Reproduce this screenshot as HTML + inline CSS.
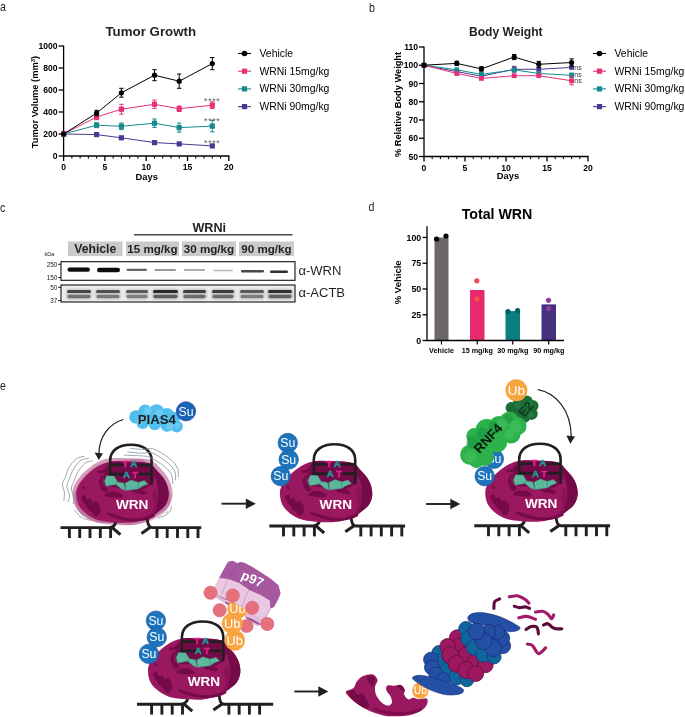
<!DOCTYPE html>
<html><head><meta charset="utf-8"><title>Figure</title>
<style>
html,body{margin:0;padding:0;background:#fff;}
svg{display:block;font-family:"Liberation Sans", Arial, sans-serif;}

.ttl{fill:#231f20;}
</style></head><body>
<svg width="685" height="717" viewBox="0 0 685 717">
<defs><filter id="bl" x="-10%" y="-50%" width="120%" height="200%"><feGaussianBlur stdDeviation="0.6"/></filter><filter id="bl2" x="-10%" y="-50%" width="120%" height="200%"><feGaussianBlur stdDeviation="1.2"/></filter></defs>
<rect width="685" height="717" fill="#fff"/>
<g font-size="13" class="ttl">
<text transform="translate(0,11.3) scale(0.82,1)">a</text>
<text transform="translate(369,12.4) scale(0.82,1)">b</text>
<text transform="translate(0,211.5) scale(0.82,1)">c</text>
<text transform="translate(368.6,211.2) scale(0.82,1)">d</text>
<text transform="translate(0,390) scale(0.82,1)">e</text>
</g>
<g id="pa"><path d="M63.6,45.4 V156.0 H229.39999999999998" fill="none" stroke="#000" stroke-width="1.3"/>
<path d="M58.6,156.0 H63.6" stroke="#000" stroke-width="1.3"/>
<text x="57.6" y="159.1" text-anchor="end" font-size="8.6" font-weight="bold">0</text>
<path d="M58.6,134.0 H63.6" stroke="#000" stroke-width="1.3"/>
<text x="57.6" y="137.1" text-anchor="end" font-size="8.6" font-weight="bold">200</text>
<path d="M58.6,112.0 H63.6" stroke="#000" stroke-width="1.3"/>
<text x="57.6" y="115.1" text-anchor="end" font-size="8.6" font-weight="bold">400</text>
<path d="M58.6,90.0 H63.6" stroke="#000" stroke-width="1.3"/>
<text x="57.6" y="93.1" text-anchor="end" font-size="8.6" font-weight="bold">600</text>
<path d="M58.6,68.0 H63.6" stroke="#000" stroke-width="1.3"/>
<text x="57.6" y="71.1" text-anchor="end" font-size="8.6" font-weight="bold">800</text>
<path d="M58.6,46.0 H63.6" stroke="#000" stroke-width="1.3"/>
<text x="57.6" y="49.1" text-anchor="end" font-size="8.6" font-weight="bold">1000</text>
<path d="M63.6,156.0 v5" stroke="#000" stroke-width="1.3"/>
<text x="63.6" y="170.3" text-anchor="middle" font-size="8.6" font-weight="bold">0</text>
<path d="M71.86,156.0 v2.7" stroke="#000" stroke-width="1"/>
<path d="M80.12,156.0 v2.7" stroke="#000" stroke-width="1"/>
<path d="M88.38,156.0 v2.7" stroke="#000" stroke-width="1"/>
<path d="M96.64,156.0 v2.7" stroke="#000" stroke-width="1"/>
<path d="M104.9,156.0 v5" stroke="#000" stroke-width="1.3"/>
<text x="104.9" y="170.3" text-anchor="middle" font-size="8.6" font-weight="bold">5</text>
<path d="M113.16,156.0 v2.7" stroke="#000" stroke-width="1"/>
<path d="M121.42,156.0 v2.7" stroke="#000" stroke-width="1"/>
<path d="M129.68,156.0 v2.7" stroke="#000" stroke-width="1"/>
<path d="M137.94,156.0 v2.7" stroke="#000" stroke-width="1"/>
<path d="M146.2,156.0 v5" stroke="#000" stroke-width="1.3"/>
<text x="146.2" y="170.3" text-anchor="middle" font-size="8.6" font-weight="bold">10</text>
<path d="M154.46,156.0 v2.7" stroke="#000" stroke-width="1"/>
<path d="M162.72,156.0 v2.7" stroke="#000" stroke-width="1"/>
<path d="M170.98,156.0 v2.7" stroke="#000" stroke-width="1"/>
<path d="M179.24,156.0 v2.7" stroke="#000" stroke-width="1"/>
<path d="M187.5,156.0 v5" stroke="#000" stroke-width="1.3"/>
<text x="187.5" y="170.3" text-anchor="middle" font-size="8.6" font-weight="bold">15</text>
<path d="M195.76,156.0 v2.7" stroke="#000" stroke-width="1"/>
<path d="M204.01999999999998,156.0 v2.7" stroke="#000" stroke-width="1"/>
<path d="M212.28,156.0 v2.7" stroke="#000" stroke-width="1"/>
<path d="M220.54,156.0 v2.7" stroke="#000" stroke-width="1"/>
<path d="M228.79999999999998,156.0 v5" stroke="#000" stroke-width="1.3"/>
<text x="228.79999999999998" y="170.3" text-anchor="middle" font-size="8.6" font-weight="bold">20</text>
<text x="146.7" y="179.7" text-anchor="middle" font-size="9.4" font-weight="bold">Days</text>
<text transform="translate(38.4,102) rotate(-90)" text-anchor="middle" font-size="9.3" font-weight="bold">Tumor Volume (mm<tspan dy="-3.2" font-size="6">3</tspan><tspan dy="3.2">)</tspan></text>
<text x="150.8" y="35.8" text-anchor="middle" font-size="13.3" font-weight="bold" class="ttl">Tumor Growth</text>
<polyline points="63.6,134.0 96.6,134.6 121.4,137.8 154.5,142.6 179.2,143.9 212.3,145.9" fill="none" stroke="#4b3a92" stroke-width="1"/>
<rect x="61.0" y="131.4" width="5.2" height="5.2" fill="#4b3a92"/>
<rect x="94.0" y="132.0" width="5.2" height="5.2" fill="#4b3a92"/>
<rect x="118.8" y="135.2" width="5.2" height="5.2" fill="#4b3a92"/>
<rect x="151.9" y="140.0" width="5.2" height="5.2" fill="#4b3a92"/>
<rect x="176.6" y="141.3" width="5.2" height="5.2" fill="#4b3a92"/>
<rect x="209.7" y="143.3" width="5.2" height="5.2" fill="#4b3a92"/>
<polyline points="63.6,134.0 96.6,125.2 121.4,126.3 154.5,123.2 179.2,127.6 212.3,126.1" fill="none" stroke="#178a8c" stroke-width="1"/>
<rect x="61.0" y="131.4" width="5.2" height="5.2" fill="#178a8c"/>
<path d="M96.6,122.8 V127.6 M94.4,122.8 h4.4 M94.4,127.6 h4.4" stroke="#178a8c" stroke-width="1" fill="none"/>
<rect x="94.0" y="122.6" width="5.2" height="5.2" fill="#178a8c"/>
<path d="M121.4,123.0 V129.6 M119.2,123.0 h4.4 M119.2,129.6 h4.4" stroke="#178a8c" stroke-width="1" fill="none"/>
<rect x="118.8" y="123.7" width="5.2" height="5.2" fill="#178a8c"/>
<path d="M154.5,119.0 V127.4 M152.3,119.0 h4.4 M152.3,127.4 h4.4" stroke="#178a8c" stroke-width="1" fill="none"/>
<rect x="151.9" y="120.6" width="5.2" height="5.2" fill="#178a8c"/>
<path d="M179.2,123.0 V132.2 M177.0,123.0 h4.4 M177.0,132.2 h4.4" stroke="#178a8c" stroke-width="1" fill="none"/>
<rect x="176.6" y="125.0" width="5.2" height="5.2" fill="#178a8c"/>
<path d="M212.3,120.4 V131.8 M210.1,120.4 h4.4 M210.1,131.8 h4.4" stroke="#178a8c" stroke-width="1" fill="none"/>
<rect x="209.7" y="123.5" width="5.2" height="5.2" fill="#178a8c"/>
<polyline points="63.6,134.0 96.6,117.0 121.4,109.2 154.5,104.3 179.2,108.7 212.3,105.2" fill="none" stroke="#e6317a" stroke-width="1"/>
<rect x="61.0" y="131.4" width="5.2" height="5.2" fill="#e6317a"/>
<path d="M96.6,114.2 V119.7 M94.4,114.2 h4.4 M94.4,119.7 h4.4" stroke="#e6317a" stroke-width="1" fill="none"/>
<rect x="94.0" y="114.4" width="5.2" height="5.2" fill="#e6317a"/>
<path d="M121.4,104.3 V114.2 M119.2,104.3 h4.4 M119.2,114.2 h4.4" stroke="#e6317a" stroke-width="1" fill="none"/>
<rect x="118.8" y="106.7" width="5.2" height="5.2" fill="#e6317a"/>
<path d="M154.5,100.1 V108.5 M152.3,100.1 h4.4 M152.3,108.5 h4.4" stroke="#e6317a" stroke-width="1" fill="none"/>
<rect x="151.9" y="101.7" width="5.2" height="5.2" fill="#e6317a"/>
<path d="M179.2,106.0 V111.5 M177.0,106.0 h4.4 M177.0,111.5 h4.4" stroke="#e6317a" stroke-width="1" fill="none"/>
<rect x="176.6" y="106.1" width="5.2" height="5.2" fill="#e6317a"/>
<path d="M212.3,101.9 V108.5 M210.1,101.9 h4.4 M210.1,108.5 h4.4" stroke="#e6317a" stroke-width="1" fill="none"/>
<rect x="209.7" y="102.6" width="5.2" height="5.2" fill="#e6317a"/>
<polyline points="63.6,134.0 96.6,113.1 121.4,92.8 154.5,75.2 179.2,81.2 212.3,63.6" fill="none" stroke="#000" stroke-width="1"/>
<circle cx="63.6" cy="134.0" r="2.6" fill="#000"/>
<path d="M96.6,110.3 V115.8 M94.4,110.3 h4.4 M94.4,115.8 h4.4" stroke="#000" stroke-width="1" fill="none"/>
<circle cx="96.6" cy="113.1" r="2.6" fill="#000"/>
<path d="M121.4,88.3 V97.2 M119.2,88.3 h4.4 M119.2,97.2 h4.4" stroke="#000" stroke-width="1" fill="none"/>
<circle cx="121.4" cy="92.8" r="2.6" fill="#000"/>
<path d="M154.5,69.7 V80.7 M152.3,69.7 h4.4 M152.3,80.7 h4.4" stroke="#000" stroke-width="1" fill="none"/>
<circle cx="154.5" cy="75.2" r="2.6" fill="#000"/>
<path d="M179.2,74.0 V88.3 M177.0,74.0 h4.4 M177.0,88.3 h4.4" stroke="#000" stroke-width="1" fill="none"/>
<circle cx="179.2" cy="81.2" r="2.6" fill="#000"/>
<path d="M212.3,57.5 V69.7 M210.1,57.5 h4.4 M210.1,69.7 h4.4" stroke="#000" stroke-width="1" fill="none"/>
<circle cx="212.3" cy="63.6" r="2.6" fill="#000"/>
<text x="212" y="103.9" text-anchor="middle" font-size="9.8" letter-spacing="0.3" style="fill:#666">****</text>
<text x="212" y="123.9" text-anchor="middle" font-size="9.8" letter-spacing="0.3" style="fill:#666">****</text>
<text x="212" y="146.1" text-anchor="middle" font-size="9.8" letter-spacing="0.3" style="fill:#666">****</text>
<path d="M238,53.5 h13" stroke="#000" stroke-width="1.1"/>
<circle cx="244.5" cy="53.5" r="2.8" fill="#000"/>
<text x="259.5" y="56.9" font-size="10.4">Vehicle</text>
<path d="M238,71.2 h13" stroke="#e6317a" stroke-width="1.1"/>
<rect x="241.9" y="68.60000000000001" width="5.2" height="5.2" fill="#e6317a"/>
<text x="259.5" y="74.60000000000001" font-size="10.4">WRNi 15mg/kg</text>
<path d="M238,88.9 h13" stroke="#178a8c" stroke-width="1.1"/>
<rect x="241.9" y="86.30000000000001" width="5.2" height="5.2" fill="#178a8c"/>
<text x="259.5" y="92.30000000000001" font-size="10.4">WRNi 30mg/kg</text>
<path d="M238,106.6 h13" stroke="#4b3a92" stroke-width="1.1"/>
<rect x="241.9" y="104.0" width="5.2" height="5.2" fill="#4b3a92"/>
<text x="259.5" y="110.0" font-size="10.4">WRNi 90mg/kg</text></g>
<g id="pb"><path d="M424.0,46.4 V156.5 H588.6" fill="none" stroke="#000" stroke-width="1.3"/>
<path d="M419.0,156.5 H424.0" stroke="#000" stroke-width="1.3"/>
<text x="418.0" y="159.6" text-anchor="end" font-size="8.6" font-weight="bold">50</text>
<path d="M419.0,138.25 H424.0" stroke="#000" stroke-width="1.3"/>
<text x="418.0" y="141.35" text-anchor="end" font-size="8.6" font-weight="bold">60</text>
<path d="M419.0,120.0 H424.0" stroke="#000" stroke-width="1.3"/>
<text x="418.0" y="123.1" text-anchor="end" font-size="8.6" font-weight="bold">70</text>
<path d="M419.0,101.75 H424.0" stroke="#000" stroke-width="1.3"/>
<text x="418.0" y="104.85" text-anchor="end" font-size="8.6" font-weight="bold">80</text>
<path d="M419.0,83.5 H424.0" stroke="#000" stroke-width="1.3"/>
<text x="418.0" y="86.6" text-anchor="end" font-size="8.6" font-weight="bold">90</text>
<path d="M419.0,65.25 H424.0" stroke="#000" stroke-width="1.3"/>
<text x="418.0" y="68.35" text-anchor="end" font-size="8.6" font-weight="bold">100</text>
<path d="M419.0,47.0 H424.0" stroke="#000" stroke-width="1.3"/>
<text x="418.0" y="50.1" text-anchor="end" font-size="8.6" font-weight="bold">110</text>
<path d="M424.0,156.5 v5" stroke="#000" stroke-width="1.3"/>
<text x="424.0" y="170.7" text-anchor="middle" font-size="8.6" font-weight="bold">0</text>
<path d="M432.2,156.5 v2.7" stroke="#000" stroke-width="1"/>
<path d="M440.4,156.5 v2.7" stroke="#000" stroke-width="1"/>
<path d="M448.6,156.5 v2.7" stroke="#000" stroke-width="1"/>
<path d="M456.8,156.5 v2.7" stroke="#000" stroke-width="1"/>
<path d="M465.0,156.5 v5" stroke="#000" stroke-width="1.3"/>
<text x="465.0" y="170.7" text-anchor="middle" font-size="8.6" font-weight="bold">5</text>
<path d="M473.2,156.5 v2.7" stroke="#000" stroke-width="1"/>
<path d="M481.4,156.5 v2.7" stroke="#000" stroke-width="1"/>
<path d="M489.6,156.5 v2.7" stroke="#000" stroke-width="1"/>
<path d="M497.8,156.5 v2.7" stroke="#000" stroke-width="1"/>
<path d="M506.0,156.5 v5" stroke="#000" stroke-width="1.3"/>
<text x="506.0" y="170.7" text-anchor="middle" font-size="8.6" font-weight="bold">10</text>
<path d="M514.2,156.5 v2.7" stroke="#000" stroke-width="1"/>
<path d="M522.4,156.5 v2.7" stroke="#000" stroke-width="1"/>
<path d="M530.6,156.5 v2.7" stroke="#000" stroke-width="1"/>
<path d="M538.8,156.5 v2.7" stroke="#000" stroke-width="1"/>
<path d="M547.0,156.5 v5" stroke="#000" stroke-width="1.3"/>
<text x="547.0" y="170.7" text-anchor="middle" font-size="8.6" font-weight="bold">15</text>
<path d="M555.2,156.5 v2.7" stroke="#000" stroke-width="1"/>
<path d="M563.4,156.5 v2.7" stroke="#000" stroke-width="1"/>
<path d="M571.6,156.5 v2.7" stroke="#000" stroke-width="1"/>
<path d="M579.8,156.5 v2.7" stroke="#000" stroke-width="1"/>
<path d="M588.0,156.5 v5" stroke="#000" stroke-width="1.3"/>
<text x="588.0" y="170.7" text-anchor="middle" font-size="8.6" font-weight="bold">20</text>
<text x="508.0" y="179.3" text-anchor="middle" font-size="9.4" font-weight="bold">Days</text>
<text transform="translate(400.6,104.5) rotate(-90)" text-anchor="middle" font-size="9.25" font-weight="bold">% Relative Body Weight</text>
<text x="505.8" y="36.2" text-anchor="middle" font-size="12.1" font-weight="bold" class="ttl">Body Weight</text>
<polyline points="424.0,65.2 456.8,71.6 481.4,76.2 514.2,69.3 538.8,69.3 571.6,67.4" fill="none" stroke="#4b3a92" stroke-width="1"/>
<rect x="421.6" y="62.9" width="4.8" height="4.8" fill="#4b3a92"/>
<rect x="454.4" y="69.2" width="4.8" height="4.8" fill="#4b3a92"/>
<rect x="479.0" y="73.8" width="4.8" height="4.8" fill="#4b3a92"/>
<path d="M514.2,66.3 V72.2 M512.0,66.3 h4.4 M512.0,72.2 h4.4" stroke="#4b3a92" stroke-width="1" fill="none"/>
<rect x="511.8" y="66.9" width="4.8" height="4.8" fill="#4b3a92"/>
<rect x="536.4" y="66.9" width="4.8" height="4.8" fill="#4b3a92"/>
<rect x="569.2" y="65.0" width="4.8" height="4.8" fill="#4b3a92"/>
<polyline points="424.0,65.2 456.8,69.8 481.4,74.4 514.2,69.8 538.8,73.5 571.6,75.3" fill="none" stroke="#178a8c" stroke-width="1"/>
<rect x="421.6" y="62.9" width="4.8" height="4.8" fill="#178a8c"/>
<rect x="454.4" y="67.4" width="4.8" height="4.8" fill="#178a8c"/>
<rect x="479.0" y="72.0" width="4.8" height="4.8" fill="#178a8c"/>
<rect x="511.8" y="67.4" width="4.8" height="4.8" fill="#178a8c"/>
<rect x="536.4" y="71.1" width="4.8" height="4.8" fill="#178a8c"/>
<path d="M571.6,73.1 V77.5 M569.4,73.1 h4.4 M569.4,77.5 h4.4" stroke="#178a8c" stroke-width="1" fill="none"/>
<rect x="569.2" y="72.9" width="4.8" height="4.8" fill="#178a8c"/>
<polyline points="424.0,65.2 456.8,73.5 481.4,78.4 514.2,75.7 538.8,75.7 571.6,80.8" fill="none" stroke="#e6317a" stroke-width="1"/>
<rect x="421.6" y="62.9" width="4.8" height="4.8" fill="#e6317a"/>
<rect x="454.4" y="71.1" width="4.8" height="4.8" fill="#e6317a"/>
<rect x="479.0" y="76.0" width="4.8" height="4.8" fill="#e6317a"/>
<rect x="511.8" y="73.3" width="4.8" height="4.8" fill="#e6317a"/>
<rect x="536.4" y="73.3" width="4.8" height="4.8" fill="#e6317a"/>
<path d="M571.6,76.7 V84.8 M569.4,76.7 h4.4 M569.4,84.8 h4.4" stroke="#e6317a" stroke-width="1" fill="none"/>
<rect x="569.2" y="78.4" width="4.8" height="4.8" fill="#e6317a"/>
<polyline points="424.0,65.2 456.8,63.4 481.4,68.9 514.2,57.0 538.8,64.3 571.6,62.5" fill="none" stroke="#000" stroke-width="1"/>
<circle cx="424.0" cy="65.2" r="2.6" fill="#000"/>
<path d="M456.8,61.2 V65.6 M454.6,61.2 h4.4 M454.6,65.6 h4.4" stroke="#000" stroke-width="1" fill="none"/>
<circle cx="456.8" cy="63.4" r="2.6" fill="#000"/>
<path d="M481.4,66.7 V71.1 M479.2,66.7 h4.4 M479.2,71.1 h4.4" stroke="#000" stroke-width="1" fill="none"/>
<circle cx="481.4" cy="68.9" r="2.6" fill="#000"/>
<path d="M514.2,54.5 V59.6 M512.0,54.5 h4.4 M512.0,59.6 h4.4" stroke="#000" stroke-width="1" fill="none"/>
<circle cx="514.2" cy="57.0" r="2.6" fill="#000"/>
<path d="M538.8,61.4 V67.3 M536.6,61.4 h4.4 M536.6,67.3 h4.4" stroke="#000" stroke-width="1" fill="none"/>
<circle cx="538.8" cy="64.3" r="2.6" fill="#000"/>
<path d="M571.6,58.9 V66.2 M569.4,58.9 h4.4 M569.4,66.2 h4.4" stroke="#000" stroke-width="1" fill="none"/>
<circle cx="571.6" cy="62.5" r="2.6" fill="#000"/>
<text x="574.2" y="69.6" font-size="7" fill="#333" letter-spacing="0.2">ns</text>
<text x="574.2" y="76.6" font-size="7" fill="#333" letter-spacing="0.2">ns</text>
<text x="574.2" y="83.2" font-size="7" fill="#333" letter-spacing="0.2">ns</text>
<path d="M593,53.5 h13" stroke="#000" stroke-width="1.1"/>
<circle cx="599.5" cy="53.5" r="2.8" fill="#000"/>
<text x="614.5" y="56.9" font-size="10.4">Vehicle</text>
<path d="M593,71.2 h13" stroke="#e6317a" stroke-width="1.1"/>
<rect x="596.9" y="68.60000000000001" width="5.2" height="5.2" fill="#e6317a"/>
<text x="614.5" y="74.60000000000001" font-size="10.4">WRNi 15mg/kg</text>
<path d="M593,88.9 h13" stroke="#178a8c" stroke-width="1.1"/>
<rect x="596.9" y="86.30000000000001" width="5.2" height="5.2" fill="#178a8c"/>
<text x="614.5" y="92.30000000000001" font-size="10.4">WRNi 30mg/kg</text>
<path d="M593,106.6 h13" stroke="#4b3a92" stroke-width="1.1"/>
<rect x="596.9" y="104.0" width="5.2" height="5.2" fill="#4b3a92"/>
<text x="614.5" y="110.0" font-size="10.4">WRNi 90mg/kg</text></g>
<g id="pc"><text x="209.2" y="232.3" text-anchor="middle" font-size="12.6" font-weight="bold" class="ttl">WRNi</text>
<path d="M134,234.8 H292.5" stroke="#4a4a4a" stroke-width="1.4"/>
<rect x="68" y="241.5" width="54.5" height="14.6" fill="#c9cacc"/>
<text x="95.25" y="252.6" text-anchor="middle" font-size="12.2" font-weight="bold" class="ttl" fill="#231f20">Vehicle</text>
<rect x="126" y="241.5" width="53" height="14.6" fill="#c9cacc"/>
<text x="152.5" y="252.6" text-anchor="middle" font-size="11.6" font-weight="bold" class="ttl" fill="#231f20">15 mg/kg</text>
<rect x="182" y="241.5" width="54" height="14.6" fill="#c9cacc"/>
<text x="209.0" y="252.6" text-anchor="middle" font-size="11.6" font-weight="bold" class="ttl" fill="#231f20">30 mg/kg</text>
<rect x="239" y="241.5" width="55" height="14.6" fill="#c9cacc"/>
<text x="266.5" y="252.6" text-anchor="middle" font-size="11.6" font-weight="bold" class="ttl" fill="#231f20">90 mg/kg</text>
<rect x="61" y="261.7" width="234" height="18.6" fill="#fff" stroke="#111" stroke-width="1.1"/>
<rect x="61" y="285" width="234" height="17" fill="#ededed" stroke="#111" stroke-width="1.1"/>
<rect x="67.5" y="267.40" width="22.5" height="4.4" rx="2.2" fill="#0a0a0a" opacity="1.0" filter="url(#bl)"/>
<rect x="97" y="267.80" width="23" height="4.4" rx="2.2" fill="#0a0a0a" opacity="1.0" filter="url(#bl)"/>
<rect x="126.5" y="268.70" width="20.5" height="2.2" rx="1.1" fill="#0a0a0a" opacity="0.65" filter="url(#bl)"/>
<rect x="154.5" y="269.10" width="21.5" height="1.8" rx="0.9" fill="#0a0a0a" opacity="0.42" filter="url(#bl)"/>
<rect x="184" y="269.15" width="21" height="1.7" rx="0.85" fill="#0a0a0a" opacity="0.45" filter="url(#bl)"/>
<rect x="213" y="269.75" width="20" height="1.5" rx="0.75" fill="#0a0a0a" opacity="0.3" filter="url(#bl)"/>
<rect x="241" y="270.00" width="23" height="2.4" rx="1.2" fill="#0a0a0a" opacity="0.75" filter="url(#bl)"/>
<rect x="270" y="270.50" width="18" height="2.6" rx="1.3" fill="#0a0a0a" opacity="0.85" filter="url(#bl)"/>
<rect x="66" y="289" width="26" height="10.5" rx="3" fill="#555" opacity="0.26" filter="url(#bl2)"/>
<rect x="67" y="290" width="24" height="3" rx="1.5" fill="#1a1a1a" opacity="0.75" filter="url(#bl)"/>
<rect x="67.5" y="294.8" width="23" height="3.4" rx="1.7" fill="#333" opacity="0.56" filter="url(#bl)"/>
<rect x="95" y="289" width="26" height="10.5" rx="3" fill="#555" opacity="0.24" filter="url(#bl2)"/>
<rect x="96" y="290" width="24" height="3" rx="1.5" fill="#1a1a1a" opacity="0.7" filter="url(#bl)"/>
<rect x="96.5" y="294.8" width="23" height="3.4" rx="1.7" fill="#333" opacity="0.52" filter="url(#bl)"/>
<rect x="125" y="289" width="24" height="10.5" rx="3" fill="#555" opacity="0.23" filter="url(#bl2)"/>
<rect x="126" y="290" width="22" height="3" rx="1.5" fill="#1a1a1a" opacity="0.65" filter="url(#bl)"/>
<rect x="126.5" y="294.8" width="21" height="3.4" rx="1.7" fill="#333" opacity="0.49" filter="url(#bl)"/>
<rect x="152" y="289" width="27" height="10.5" rx="3" fill="#555" opacity="0.32" filter="url(#bl2)"/>
<rect x="153" y="290" width="25" height="3" rx="1.5" fill="#1a1a1a" opacity="0.92" filter="url(#bl)"/>
<rect x="153.5" y="294.8" width="24" height="3.4" rx="1.7" fill="#333" opacity="0.69" filter="url(#bl)"/>
<rect x="182" y="289" width="25" height="10.5" rx="3" fill="#555" opacity="0.28" filter="url(#bl2)"/>
<rect x="183" y="290" width="23" height="3" rx="1.5" fill="#1a1a1a" opacity="0.8" filter="url(#bl)"/>
<rect x="183.5" y="294.8" width="22" height="3.4" rx="1.7" fill="#333" opacity="0.60" filter="url(#bl)"/>
<rect x="211" y="289" width="24" height="10.5" rx="3" fill="#555" opacity="0.28" filter="url(#bl2)"/>
<rect x="212" y="290" width="22" height="3" rx="1.5" fill="#1a1a1a" opacity="0.8" filter="url(#bl)"/>
<rect x="212.5" y="294.8" width="21" height="3.4" rx="1.7" fill="#333" opacity="0.60" filter="url(#bl)"/>
<rect x="239" y="289" width="26" height="10.5" rx="3" fill="#555" opacity="0.23" filter="url(#bl2)"/>
<rect x="240" y="290" width="24" height="3" rx="1.5" fill="#1a1a1a" opacity="0.65" filter="url(#bl)"/>
<rect x="240.5" y="294.8" width="23" height="3.4" rx="1.7" fill="#333" opacity="0.49" filter="url(#bl)"/>
<rect x="267" y="289" width="26" height="10.5" rx="3" fill="#555" opacity="0.31" filter="url(#bl2)"/>
<rect x="268" y="290" width="24" height="3" rx="1.5" fill="#1a1a1a" opacity="0.88" filter="url(#bl)"/>
<rect x="268.5" y="294.8" width="23" height="3.4" rx="1.7" fill="#333" opacity="0.66" filter="url(#bl)"/>
<text x="44.5" y="255.6" font-size="5.6" fill="#222">kDa</text>
<text x="57.3" y="266.5" text-anchor="end" font-size="6.4" fill="#222">250</text>
<path d="M58,264.3 h3" stroke="#111" stroke-width="0.9"/>
<text x="57.3" y="279.7" text-anchor="end" font-size="6.4" fill="#222">150</text>
<path d="M58,277.5 h3" stroke="#111" stroke-width="0.9"/>
<text x="57.3" y="289.5" text-anchor="end" font-size="6.4" fill="#222">50</text>
<path d="M58,287.3 h3" stroke="#111" stroke-width="0.9"/>
<text x="57.3" y="302.8" text-anchor="end" font-size="6.4" fill="#222">37</text>
<path d="M58,300.6 h3" stroke="#111" stroke-width="0.9"/>
<text x="298.5" y="275" font-size="13" fill="#231f20">α-WRN</text>
<text x="298.5" y="297" font-size="13" fill="#231f20">α-ACTB</text></g>
<g id="pd"><rect x="434.5" y="237.5" width="14" height="103.0" fill="#6b6768"/>
<rect x="470" y="290.0" width="14.5" height="50.5" fill="#e8286f"/>
<rect x="505.5" y="311.1" width="14.5" height="29.4" fill="#0a7e80"/>
<rect x="541.5" y="304.4" width="14.5" height="36.1" fill="#46307f"/>
<path d="M427.0,226.17000000000002 V340.5 H564" fill="none" stroke="#000" stroke-width="1.3"/>
<path d="M422.5,340.5 H427.0" stroke="#000" stroke-width="1.3"/>
<text x="421.2" y="343.6" text-anchor="end" font-size="8.8" font-weight="bold">0</text>
<path d="M422.5,314.75 H427.0" stroke="#000" stroke-width="1.3"/>
<text x="421.2" y="317.85" text-anchor="end" font-size="8.8" font-weight="bold">25</text>
<path d="M422.5,289.0 H427.0" stroke="#000" stroke-width="1.3"/>
<text x="421.2" y="292.1" text-anchor="end" font-size="8.8" font-weight="bold">50</text>
<path d="M422.5,263.25 H427.0" stroke="#000" stroke-width="1.3"/>
<text x="421.2" y="266.35" text-anchor="end" font-size="8.8" font-weight="bold">75</text>
<path d="M422.5,237.5 H427.0" stroke="#000" stroke-width="1.3"/>
<text x="421.2" y="240.6" text-anchor="end" font-size="8.8" font-weight="bold">100</text>
<path d="M441.5,340.5 v4" stroke="#000" stroke-width="1.2"/>
<text x="441.5" y="353.4" text-anchor="middle" font-size="7.2" font-weight="bold">Vehicle</text>
<path d="M477.25,340.5 v4" stroke="#000" stroke-width="1.2"/>
<text x="477.25" y="353.4" text-anchor="middle" font-size="7.2" font-weight="bold">15 mg/kg</text>
<path d="M512.75,340.5 v4" stroke="#000" stroke-width="1.2"/>
<text x="512.75" y="353.4" text-anchor="middle" font-size="7.2" font-weight="bold">30 mg/kg</text>
<path d="M548.75,340.5 v4" stroke="#000" stroke-width="1.2"/>
<text x="548.75" y="353.4" text-anchor="middle" font-size="7.2" font-weight="bold">90 mg/kg</text>
<text transform="translate(401.2,282.305) rotate(-90)" text-anchor="middle" font-size="9.5" font-weight="bold">% Vehicle</text>
<text x="497" y="219" text-anchor="middle" font-size="14.2" font-weight="bold">Total WRN</text>
<circle cx="436.6" cy="239.0" r="2.6" fill="#000"/>
<circle cx="446" cy="236.0" r="2.6" fill="#000"/>
<circle cx="476.8" cy="280.8" r="2.6" fill="#ef4a55"/>
<circle cx="476.8" cy="298.8" r="2.6" fill="#f0564a"/>
<circle cx="508" cy="311.5" r="2.6" fill="#0b5d6a"/>
<circle cx="517.6" cy="310.6" r="2.6" fill="#0b5d6a"/>
<circle cx="548.5" cy="300.3" r="2.6" fill="#8a3f9a"/>
<circle cx="548.5" cy="308.6" r="2.6" fill="#8a3f9a"/></g>
<g id="pe"><defs><path id="blobshape" d="M314.9,461.3 C310.6,461.7 308.4,462.6 305.3,463.9 C302.2,465.2 299.5,467.0 296.5,469.2 C293.6,471.4 290.3,474.3 287.8,477.0 C285.3,479.8 283.0,482.9 281.6,485.8 C280.3,488.7 279.7,491.4 279.9,494.6 C280.0,497.8 280.9,502.0 282.5,505.1 C284.1,508.1 286.6,510.6 289.5,513.0 C292.4,515.3 295.7,517.6 300.0,519.1 C304.4,520.6 310.0,521.2 315.8,521.7 C321.6,522.2 329.2,522.7 335.1,522.1 C340.9,521.4 346.2,519.6 350.8,517.7 C355.5,515.7 360.0,512.6 363.1,510.3 C366.2,508.1 367.7,506.7 369.2,504.2 C370.8,501.7 371.9,498.5 372.2,495.4 C372.5,492.4 371.9,488.9 371.0,485.8 C370.1,482.7 368.4,479.7 366.6,477.0 C364.9,474.4 362.2,471.9 360.5,470.0 C358.7,468.1 358.0,467.0 356.1,465.7 C354.2,464.3 353.2,462.9 349.1,462.2 C345.0,461.4 337.3,461.4 331.6,461.3 C325.9,461.1 319.3,460.8 314.9,461.3Z" fill="#99185f"/>
<g id="wrnc">
<path d="M314.9,461.3 C310.6,461.7 308.4,462.6 305.3,463.9 C302.2,465.2 299.5,467.0 296.5,469.2 C293.6,471.4 290.3,474.3 287.8,477.0 C285.3,479.8 283.0,482.9 281.6,485.8 C280.3,488.7 279.7,491.4 279.9,494.6 C280.0,497.8 280.9,502.0 282.5,505.1 C284.1,508.1 286.6,510.6 289.5,513.0 C292.4,515.3 295.7,517.6 300.0,519.1 C304.4,520.6 310.0,521.2 315.8,521.7 C321.6,522.2 329.2,522.7 335.1,522.1 C340.9,521.4 346.2,519.6 350.8,517.7 C355.5,515.7 360.0,512.6 363.1,510.3 C366.2,508.1 367.7,506.7 369.2,504.2 C370.8,501.7 371.9,498.5 372.2,495.4 C372.5,492.4 371.9,488.9 371.0,485.8 C370.1,482.7 368.4,479.7 366.6,477.0 C364.9,474.4 362.2,471.9 360.5,470.0 C358.7,468.1 358.0,467.0 356.1,465.7 C354.2,464.3 353.2,462.9 349.1,462.2 C345.0,461.4 337.3,461.4 331.6,461.3 C325.9,461.1 319.3,460.8 314.9,461.3Z" fill="#99185f"/>
<path d="M356.1,465.1 C356.6,464.5 359.2,468.8 361.0,470.9 C362.8,473.0 365.3,475.0 367.0,477.6 C368.7,480.1 370.3,483.2 371.2,486.2 C372.0,489.1 372.5,492.4 372.2,495.4 C371.9,498.4 370.8,501.7 369.2,504.2 C367.7,506.7 365.4,508.4 363.1,510.3 C360.8,512.3 355.8,516.2 355.2,515.9 C354.6,515.6 358.5,511.9 359.6,508.6 C360.7,505.3 361.5,500.4 361.7,496.3 C361.9,492.2 361.6,487.7 361.0,484.1 C360.4,480.4 358.7,477.6 357.9,474.4 C357.0,471.3 355.6,465.7 356.1,465.1Z" fill="#740a48"/>
<path d="M314.9,461.3 C318.6,460.1 325.9,461.1 331.6,461.3 C337.3,461.4 344.9,461.4 349.1,462.2 C353.2,462.9 355.0,463.5 356.5,466.0 C357.9,468.5 358.5,473.7 357.9,477.0 C357.2,480.3 355.2,483.8 352.6,485.8 C350.0,487.8 346.8,489.0 342.1,489.3 C337.4,489.6 329.8,488.1 324.6,487.6 C319.4,487.0 313.8,487.3 310.9,485.8 C308.0,484.3 307.3,481.7 307.0,478.8 C306.8,475.9 308.4,471.2 309.7,468.3 C311.0,465.4 311.3,462.4 314.9,461.3Z" fill="#740a48"/>
<path d="M301.2,470.7 C301.9,470.2 304.9,470.4 306.4,469.6 C307.9,468.9 309.2,466.2 310.1,466.0 C310.9,465.8 311.8,467.6 311.4,468.6 C311.0,469.6 309.1,471.6 307.4,472.3 C305.8,472.9 302.7,472.7 301.7,472.5 C300.6,472.2 300.4,471.2 301.2,470.7Z" fill="#740a48"/>
<path d="M305.6,474.7 C304.8,475.5 303.0,478.2 302.7,480.1 C302.4,482.1 303.0,484.5 303.8,486.4 C304.6,488.3 306.2,490.8 307.4,491.3 C308.7,491.9 310.9,490.5 311.3,489.7 C311.7,489.0 310.9,488.0 310.1,486.9 C309.2,485.8 307.1,484.6 306.4,483.3 C305.7,481.9 305.7,479.9 305.9,478.5 C306.0,477.2 307.2,476.0 307.1,475.4 C307.1,474.8 306.3,473.9 305.6,474.7Z" fill="#740a48"/>
<path d="M308.5,493.9 C309.0,493.0 311.6,491.5 313.7,491.1 C315.8,490.7 318.9,491.0 321.0,491.6 C323.2,492.3 326.0,494.1 326.5,495.0 C327.0,495.9 325.8,496.7 324.2,497.1 C322.6,497.4 319.1,496.9 316.9,496.9 C314.6,496.8 312.0,497.0 310.6,496.5 C309.2,496.1 308.0,494.8 308.5,493.9Z" fill="#740a48"/>
<path d="M284.9,496.3 C285.3,495.3 287.6,494.3 288.6,494.8 C289.6,495.2 289.7,498.4 290.7,498.9 C291.7,499.5 293.5,497.5 294.4,497.9 C295.2,498.3 295.0,501.0 295.9,501.6 C296.9,502.1 298.9,500.4 300.1,501.0 C301.3,501.6 302.6,503.7 303.3,505.2 C303.9,506.8 304.2,508.9 304.0,510.5 C303.7,512.1 302.6,514.0 301.7,514.9 C300.8,515.7 299.5,515.8 298.5,515.4 C297.6,514.9 296.9,513.0 295.9,512.0 C295.0,511.0 293.8,510.5 292.8,509.4 C291.7,508.3 290.7,506.6 289.6,505.2 C288.6,503.8 287.3,502.5 286.5,501.0 C285.7,499.6 284.6,497.4 284.9,496.3Z" fill="#740a48"/>
<path d="M310.6,512.0 C311.4,511.9 314.1,512.8 316.9,513.6 C319.6,514.4 323.8,516.0 327.3,516.7 C330.8,517.5 334.3,518.0 337.8,518.0 C341.3,518.0 345.1,517.5 348.2,516.7 C351.4,516.0 355.0,513.7 356.6,513.6 C358.2,513.5 359.1,515.2 357.7,516.2 C356.3,517.2 352.3,518.9 348.2,519.7 C344.2,520.4 338.3,520.9 333.6,520.6 C328.9,520.3 323.7,519.0 320.0,518.0 C316.3,517.0 313.2,515.6 311.6,514.6 C310.1,513.6 309.7,512.2 310.6,512.0Z" fill="#740a48"/>
<path d="M335.2,489.5 C335.3,488.8 338.0,488.3 339.9,488.3 C341.7,488.3 344.4,488.8 346.2,489.5 C347.9,490.3 350.2,491.9 350.3,492.7 C350.5,493.4 349.1,494.0 347.2,493.9 C345.3,493.9 340.8,493.1 338.8,492.4 C336.8,491.6 335.0,490.2 335.2,489.5Z" fill="#740a48"/>
<path d="M286.3,486.2 C286.2,485.6 287.2,485.6 287.8,486.0 C288.3,486.4 289.3,487.9 289.4,488.5 C289.5,489.1 288.9,489.9 288.4,489.5 C287.9,489.1 286.4,486.8 286.3,486.2Z" fill="#740a48"/>
<path d="M356.1,492.8 C356.5,489.9 358.8,486.7 359.6,487.6 C360.4,488.4 361.0,494.6 361.0,498.1 C361.0,501.6 360.7,505.8 359.6,508.6 C358.5,511.4 354.7,515.3 354.3,514.7 C354.0,514.1 357.2,508.7 357.5,505.1 C357.8,501.4 355.7,495.7 356.1,492.8Z" fill="#8a1257"/>
<polygon points="310.2,475.2 317.6,475.4 321.3,481.4 319.4,484.0 309.7,485.7 308.0,480.5" fill="#5bb89c" stroke="#2f8f78" stroke-width="0.4" stroke-linejoin="miter"/>
<polygon points="321.3,481.4 327.4,482.4 329.4,489.9 325.5,488.7 319.4,484.0" fill="#5bb89c" stroke="#2f8f78" stroke-width="0.4" stroke-linejoin="miter"/>
<polygon points="328.6,482.8 334.7,479.5 341.9,481.8 341.9,488.4 329.6,489.9" fill="#5bb89c" stroke="#2f8f78" stroke-width="0.4" stroke-linejoin="miter"/>
<polygon points="341.9,481.8 348.0,480.0 351.6,483.6 346.0,485.7 341.9,488.4" fill="#5bb89c" stroke="#2f8f78" stroke-width="0.4" stroke-linejoin="miter"/>
<path d="M314.5,464.4 H327 M341,464.4 H355.2 M313.8,473.6 H327.4 M342,473.6 H355.2" stroke="#231f20" stroke-width="2.7" fill="none"/>
<path d="M313.8,474.8 V460 C313.8,450 322,444.2 334.5,444.2 C347,444.2 355.2,450 355.2,460 V484.2" stroke="#231f20" stroke-width="2.6" fill="none"/>
<text x="329.1" y="466.5" text-anchor="middle" font-size="9.5" font-weight="bold" stroke="#e4238d" stroke-width="0.35" style="fill:#e4238d">T</text>
<text x="337.3" y="466.5" text-anchor="middle" font-size="9.5" font-weight="bold" stroke="#17a79f" stroke-width="0.35" style="fill:#17a79f">A</text>
<text x="330.1" y="477.1" text-anchor="middle" font-size="9.5" font-weight="bold" stroke="#17a79f" stroke-width="0.35" style="fill:#17a79f">A</text>
<text x="338.8" y="477.1" text-anchor="middle" font-size="9.5" font-weight="bold" stroke="#e4238d" stroke-width="0.35" style="fill:#e4238d">T</text>
<text x="335.8" y="508.6" text-anchor="middle" font-size="13.6" font-weight="bold" style="fill:#fff">WRN</text>
</g></defs>
<g opacity="0.42"><use href="#blobshape" transform="translate(-203.6,0.5) translate(326 492) scale(1.085,1.1) translate(-326 -492) translate(0,-0.5)"/></g>
<g opacity="0.30"><use href="#blobshape" transform="translate(-203.6,0.5) rotate(-8 327 492) translate(-2.5,-1)"/></g>
<g opacity="0.25"><use href="#blobshape" transform="translate(-203.6,0.5) rotate(6 327 492) translate(2.5,1.5)"/></g>
<path d="M60.5,527.6 H109.0 C113.0,527.6 115.5,525.6 116.0,520.6" stroke="#231f20" stroke-width="2.9" fill="none"/><path d="M111.5,527.0 L120.4,534.6" stroke="#231f20" stroke-width="3" fill="none"/><path d="M110.6,527.6 v10.4" stroke="#231f20" stroke-width="2.9"/><path d="M100.3,527.6 v10.4" stroke="#231f20" stroke-width="2.9"/><path d="M90.0,527.6 v10.4" stroke="#231f20" stroke-width="2.9"/><path d="M79.7,527.6 v10.4" stroke="#231f20" stroke-width="2.9"/><path d="M69.4,527.6 v10.4" stroke="#231f20" stroke-width="2.9"/><path d="M201.3,527.6 H152.0 C149.0,527.6 147.5,524.6 147.3,517.6" stroke="#231f20" stroke-width="2.9" fill="none"/><path d="M150.6,527.1 L141.5,533.4" stroke="#231f20" stroke-width="3" fill="none"/><path d="M157.0,527.6 v10.4" stroke="#231f20" stroke-width="2.9"/><path d="M167.2,527.6 v10.4" stroke="#231f20" stroke-width="2.9"/><path d="M177.5,527.6 v10.4" stroke="#231f20" stroke-width="2.9"/><path d="M187.8,527.6 v10.4" stroke="#231f20" stroke-width="2.9"/><path d="M198.0,527.6 v10.4" stroke="#231f20" stroke-width="2.9"/>
<use href="#wrnc" transform="translate(-203.6,0.5)"/>
<path d="M84.5,456.3 C83.1,456.7 78.9,456.9 76.3,458.8 C73.7,460.7 70.6,464.7 68.8,467.6 C67.0,470.5 66.7,473.7 65.7,476.4 C64.6,479.1 62.7,481.2 62.5,483.9 C62.3,486.6 64.2,489.9 64.4,492.7 C64.6,495.5 63.9,499.5 63.8,500.8" fill="none" stroke="#8d979e" stroke-width="0.85"/>
<path d="M88.9,458.2 C87.4,458.6 82.7,458.8 80.1,460.7 C77.5,462.6 75.0,466.5 73.2,469.5 C71.4,472.5 70.5,476.1 69.4,478.9 C68.4,481.7 66.9,483.7 66.9,486.4 C66.9,489.1 69.2,492.6 69.4,495.2 C69.6,497.8 68.4,501.0 68.2,502.1" fill="none" stroke="#8d979e" stroke-width="0.85"/>
<path d="M92.6,460.7 C91.4,461.1 87.5,461.4 85.1,463.2 C82.7,465.0 80.1,468.3 78.2,471.4 C76.3,474.4 75.0,478.5 73.8,481.4 C72.7,484.3 71.3,486.4 71.3,488.9 C71.3,491.4 73.5,493.9 73.8,496.5 C74.1,499.0 73.3,502.7 73.2,504.0" fill="none" stroke="#8d979e" stroke-width="0.85"/>
<path d="M74.4,509.6 C75.4,510.8 77.9,514.9 80.1,516.5 C82.3,518.2 85.5,519.0 87.6,519.7 C89.7,520.3 91.8,520.2 92.6,520.3" fill="none" stroke="#8d979e" stroke-width="0.85"/>
<path d="M78.2,510.3 C78.8,511.0 80.5,513.5 82.0,514.6 C83.4,515.8 86.2,516.7 87.0,517.2" fill="none" stroke="#8d979e" stroke-width="0.85"/>
<path d="M130.0,448.2 C132.1,448.4 138.8,449.3 142.6,449.4 C146.4,449.5 149.3,448.1 152.7,448.8 C156.0,449.5 159.4,451.7 162.7,453.8 C166.0,455.9 170.2,458.8 172.7,461.4 C175.3,463.9 176.8,466.3 177.8,468.9 C178.7,471.5 178.3,475.7 178.4,477.0" fill="none" stroke="#8d979e" stroke-width="0.85"/>
<path d="M127.5,451.9 C129.8,452.1 137.4,453.1 141.4,453.2 C145.3,453.3 148.0,451.7 151.4,452.6 C154.7,453.4 158.3,456.1 161.4,458.2 C164.6,460.3 167.9,462.7 170.2,465.1 C172.5,467.5 174.4,470.1 175.3,472.7 C176.1,475.2 175.3,478.9 175.3,480.2" fill="none" stroke="#8d979e" stroke-width="0.85"/>
<path d="M123.8,455.1 C126.1,455.2 133.4,455.4 137.6,455.7 C141.8,456.0 145.3,455.8 148.9,457.0 C152.4,458.1 155.8,460.5 158.9,462.6 C162.1,464.7 165.5,467.2 167.7,469.5 C169.9,471.8 171.3,474.0 172.1,476.4 C173.0,478.8 172.6,482.7 172.7,484.0" fill="none" stroke="#8d979e" stroke-width="0.85"/>
<path d="M171.5,505.3 C171.3,506.2 171.3,509.3 170.2,511.0 C169.2,512.6 167.3,514.2 165.2,515.4 C163.1,516.5 158.9,517.4 157.7,517.9" fill="none" stroke="#8d979e" stroke-width="0.85"/>
<path d="M168.4,511.0 C167.9,511.4 166.3,513.1 165.8,513.5" fill="none" stroke="#8d979e" stroke-width="0.85"/>
<circle cx="135.9" cy="416.9" r="6.7" fill="#4fbfee"/><circle cx="145.2" cy="411.6" r="7.0" fill="#4fbfee"/><circle cx="156.6" cy="411.6" r="7.4" fill="#4fbfee"/><circle cx="167.1" cy="415.1" r="7.0" fill="#4fbfee"/><circle cx="142.6" cy="423.0" r="6.1" fill="#4fbfee"/><circle cx="154.8" cy="423.9" r="6.3" fill="#4fbfee"/><circle cx="167.1" cy="424.8" r="7.0" fill="#4fbfee"/><circle cx="176.7" cy="426.5" r="6.1" fill="#4fbfee"/><circle cx="174.1" cy="417.8" r="6.1" fill="#4fbfee"/><circle cx="156.6" cy="417.8" r="7.9" fill="#4fbfee"/>
<g opacity="0.45"><circle cx="147.8" cy="410.8" r="3.9" fill="#8fd8f7"/><circle cx="159.2" cy="412.5" r="3.5" fill="#8fd8f7"/><circle cx="139.9" cy="421.3" r="3.2" fill="#8fd8f7"/><circle cx="169.7" cy="426.5" r="3.5" fill="#8fd8f7"/><circle cx="177.6" cy="425.7" r="2.8" fill="#8fd8f7"/></g>
<text x="156.8" y="424.4" text-anchor="middle" font-size="13.2" font-weight="bold" style="fill:#231f20">PIAS4</text>
<circle cx="186" cy="411.3" r="9.6" fill="#1b63b5" stroke="#2a3f94" stroke-width="0.7"/><text x="186" y="415.5" text-anchor="middle" font-size="12.3" fill="#fff" style="fill:#fff">Su</text>
<path d="M123.3,419.5 C108,424 99,438 98.9,454" stroke="#231f20" stroke-width="1.2" fill="none"/>
<path d="M98.8,460 L94.6,452.6 L103,453.4Z" fill="#231f20"/>
<path d="M269.3,526.0 H312.8 C316.8,526.0 319.3,524.0 319.8,519.0" stroke="#231f20" stroke-width="2.9" fill="none"/><path d="M315.3,525.4 L324.2,533.0" stroke="#231f20" stroke-width="3" fill="none"/><path d="M314.4,526.0 v10.4" stroke="#231f20" stroke-width="2.9"/><path d="M304.1,526.0 v10.4" stroke="#231f20" stroke-width="2.9"/><path d="M293.8,526.0 v10.4" stroke="#231f20" stroke-width="2.9"/><path d="M283.5,526.0 v10.4" stroke="#231f20" stroke-width="2.9"/><path d="M405.1,526.0 H355.8 C352.8,526.0 351.3,523.0 351.1,516.0" stroke="#231f20" stroke-width="2.9" fill="none"/><path d="M354.4,525.5 L345.3,531.8" stroke="#231f20" stroke-width="3" fill="none"/><path d="M360.8,526.0 v10.4" stroke="#231f20" stroke-width="2.9"/><path d="M371.1,526.0 v10.4" stroke="#231f20" stroke-width="2.9"/><path d="M381.3,526.0 v10.4" stroke="#231f20" stroke-width="2.9"/><path d="M391.6,526.0 v10.4" stroke="#231f20" stroke-width="2.9"/><path d="M401.8,526.0 v10.4" stroke="#231f20" stroke-width="2.9"/>
<use href="#wrnc" transform="translate(0,0)"/>
<circle cx="287.8" cy="442.9" r="9.7" fill="#1c75bc" stroke="#2457a6" stroke-width="0.7"/><text x="287.8" y="447.1" text-anchor="middle" font-size="12.3" fill="#fff" style="fill:#fff">Su</text>
<circle cx="288.7" cy="459.5" r="9.7" fill="#1c75bc" stroke="#2457a6" stroke-width="0.7"/><text x="288.7" y="463.7" text-anchor="middle" font-size="12.3" fill="#fff" style="fill:#fff">Su</text>
<circle cx="280.8" cy="476.2" r="9.7" fill="#1c75bc" stroke="#2457a6" stroke-width="0.7"/><text x="280.8" y="480.4" text-anchor="middle" font-size="12.3" fill="#fff" style="fill:#fff">Su</text>
<path d="M474.3,525.8 H517.8 C521.8,525.8 524.3,523.8 524.8,518.8" stroke="#231f20" stroke-width="2.9" fill="none"/><path d="M520.3,525.2 L529.2,532.8" stroke="#231f20" stroke-width="3" fill="none"/><path d="M519.4,525.8 v10.4" stroke="#231f20" stroke-width="2.9"/><path d="M509.1,525.8 v10.4" stroke="#231f20" stroke-width="2.9"/><path d="M498.8,525.8 v10.4" stroke="#231f20" stroke-width="2.9"/><path d="M488.5,525.8 v10.4" stroke="#231f20" stroke-width="2.9"/><path d="M610.1,525.8 H560.8 C557.8,525.8 556.3,522.8 556.1,515.8" stroke="#231f20" stroke-width="2.9" fill="none"/><path d="M559.4,525.3 L550.3,531.6" stroke="#231f20" stroke-width="3" fill="none"/><path d="M565.8,525.8 v10.4" stroke="#231f20" stroke-width="2.9"/><path d="M576.0,525.8 v10.4" stroke="#231f20" stroke-width="2.9"/><path d="M586.3,525.8 v10.4" stroke="#231f20" stroke-width="2.9"/><path d="M596.5,525.8 v10.4" stroke="#231f20" stroke-width="2.9"/><path d="M606.8,525.8 v10.4" stroke="#231f20" stroke-width="2.9"/>
<use href="#wrnc" transform="translate(205.4,-0.5)"/>
<circle cx="493.9" cy="458.8" r="9.7" fill="#1c75bc" stroke="#2457a6" stroke-width="0.7"/><text x="493.9" y="463.0" text-anchor="middle" font-size="12.3" fill="#fff" style="fill:#fff">Su</text>
<circle cx="484.7" cy="476.2" r="9.7" fill="#1c75bc" stroke="#2457a6" stroke-width="0.7"/><text x="484.7" y="480.4" text-anchor="middle" font-size="12.3" fill="#fff" style="fill:#fff">Su</text>
<circle cx="511.3" cy="407.7" r="5.7" fill="#1b6d38"/><circle cx="518.5" cy="404.6" r="6.1" fill="#1b6d38"/><circle cx="526.6" cy="401.6" r="6.1" fill="#1b6d38"/><circle cx="532.8" cy="405.7" r="5.7" fill="#1b6d38"/><circle cx="531.7" cy="413.8" r="6.1" fill="#1b6d38"/><circle cx="523.6" cy="415.9" r="7.2" fill="#1b6d38"/><circle cx="515.4" cy="412.8" r="6.1" fill="#1b6d38"/><circle cx="522.6" cy="408.7" r="7.2" fill="#1b6d38"/>
<g opacity="0.5"><circle cx="517.4" cy="405.7" r="2.9" fill="#2f8a4c"/><circle cx="529.7" cy="403.6" r="2.9" fill="#2f8a4c"/><circle cx="530.7" cy="414.9" r="2.9" fill="#2f8a4c"/></g>
<circle cx="470.4" cy="454.7" r="10.2" fill="#2cb14b"/><circle cx="478.6" cy="444.5" r="11.2" fill="#2cb14b"/><circle cx="474.5" cy="436.3" r="8.2" fill="#2cb14b"/><circle cx="486.8" cy="430.2" r="11.2" fill="#2cb14b"/><circle cx="499.0" cy="426.1" r="10.2" fill="#2cb14b"/><circle cx="509.3" cy="422.0" r="10.2" fill="#2cb14b"/><circle cx="517.4" cy="426.1" r="9.2" fill="#2cb14b"/><circle cx="511.3" cy="434.3" r="9.2" fill="#2cb14b"/><circle cx="497.0" cy="442.4" r="10.2" fill="#2cb14b"/><circle cx="484.7" cy="456.7" r="9.2" fill="#2cb14b"/><circle cx="476.6" cy="460.8" r="7.2" fill="#2cb14b"/><circle cx="490.9" cy="442.4" r="10.2" fill="#2cb14b"/>
<g opacity="0.55"><circle cx="472.5" cy="442.4" r="6.1" fill="#17933f"/><circle cx="482.7" cy="434.3" r="6.5" fill="#17933f"/><circle cx="493.9" cy="427.1" r="5.7" fill="#17933f"/><circle cx="478.6" cy="446.5" r="4.5" fill="#17933f"/><circle cx="508.2" cy="418.9" r="4.9" fill="#17933f"/></g>
<g opacity="0.5"><circle cx="470.4" cy="456.7" r="6.1" fill="#4cc463"/><circle cx="502.1" cy="424.0" r="5.7" fill="#4cc463"/><circle cx="515.4" cy="426.1" r="6.1" fill="#4cc463"/><circle cx="509.3" cy="434.3" r="5.1" fill="#4cc463"/></g>
<text transform="translate(491.5,441.5) rotate(-47)" text-anchor="middle" font-size="13.4" font-weight="bold" style="fill:#0b1a0f">RNF4</text>
<text transform="translate(529.3,412) rotate(-50)" text-anchor="middle" font-size="13" font-weight="bold" style="fill:#0b3a1c">E2</text>
<circle cx="516.4" cy="390.3" r="11" fill="#f7a541"/><text x="516.4" y="395.0" text-anchor="middle" font-size="13.4" style="fill:#fff">Ub</text>
<path d="M537.9,389.7 C556,393 571,410 571.3,437" stroke="#231f20" stroke-width="1.2" fill="none"/>
<path d="M570.4,443.8 L566.3,435.6 L575,436.4Z" fill="#231f20"/>
<path d="M137.0,704.2 H180.9 C184.9,704.2 187.4,702.2 187.9,697.2" stroke="#231f20" stroke-width="2.9" fill="none"/><path d="M183.4,703.6 L192.3,711.2" stroke="#231f20" stroke-width="3" fill="none"/><path d="M182.5,704.2 v10.4" stroke="#231f20" stroke-width="2.9"/><path d="M172.2,704.2 v10.4" stroke="#231f20" stroke-width="2.9"/><path d="M161.9,704.2 v10.4" stroke="#231f20" stroke-width="2.9"/><path d="M151.6,704.2 v10.4" stroke="#231f20" stroke-width="2.9"/><path d="M273.2,704.2 H223.9 C220.9,704.2 219.4,701.2 219.2,694.2" stroke="#231f20" stroke-width="2.9" fill="none"/><path d="M222.5,703.7 L213.4,710.0" stroke="#231f20" stroke-width="3" fill="none"/><path d="M228.9,704.2 v10.4" stroke="#231f20" stroke-width="2.9"/><path d="M239.2,704.2 v10.4" stroke="#231f20" stroke-width="2.9"/><path d="M249.4,704.2 v10.4" stroke="#231f20" stroke-width="2.9"/><path d="M259.6,704.2 v10.4" stroke="#231f20" stroke-width="2.9"/>
<use href="#wrnc" transform="translate(-131.9,177.3)"/>
<circle cx="155.9" cy="620.6" r="9.7" fill="#1c75bc" stroke="#2457a6" stroke-width="0.7"/><text x="155.9" y="624.8" text-anchor="middle" font-size="12.3" fill="#fff" style="fill:#fff">Su</text>
<circle cx="156.8" cy="637.2" r="9.7" fill="#1c75bc" stroke="#2457a6" stroke-width="0.7"/><text x="156.8" y="641.4" text-anchor="middle" font-size="12.3" fill="#fff" style="fill:#fff">Su</text>
<circle cx="148.9" cy="653.9" r="9.7" fill="#1c75bc" stroke="#2457a6" stroke-width="0.7"/><text x="148.9" y="658.1" text-anchor="middle" font-size="12.3" fill="#fff" style="fill:#fff">Su</text>
<circle cx="219.7" cy="610.2" r="6.7" fill="#e7707d" stroke="#d05566" stroke-width="0.4"/>
<circle cx="246.6" cy="625.9" r="6.7" fill="#e7707d" stroke="#d05566" stroke-width="0.4"/>
<polygon points="213.8,589.4 216.4,597.7 231.5,607.6 243.4,614.8 256.5,625.7 262.8,624.0 271.6,606.9 255.2,598.4 232.8,587.8" fill="#e4bcd9" stroke="#c492c0" stroke-width="0.4" stroke-linejoin="round"/>
<ellipse cx="223.0" cy="597.3" rx="5.5" ry="1.1" fill="#a0549b" transform="rotate(27 223.0 597.3)"/>
<ellipse cx="230.2" cy="604.7" rx="5.9" ry="1.1" fill="#a0549b" transform="rotate(27 230.2 604.7)"/>
<ellipse cx="250.6" cy="619.6" rx="5.9" ry="1.1" fill="#a0549b" transform="rotate(27 250.6 619.6)"/>
<ellipse cx="255.8" cy="622.3" rx="5.3" ry="1.1" fill="#a0549b" transform="rotate(27 255.8 622.3)"/>
<circle cx="237.4" cy="608.9" r="10" fill="#f7a541"/><text x="237.4" y="613.3" text-anchor="middle" font-size="12.6" style="fill:#fff">Ub</text>
<polygon points="219.7,577.6 213.8,589.4 215.8,594.4 228.2,599.7 239.4,605.6 251.2,612.8 259.8,620.0 265.7,616.8 271.6,606.9 270.3,600.3 260.4,594.4 249.9,589.8 239.4,582.6 228.2,578.4" fill="#ebc8e1" stroke="#c08bbb" stroke-width="0.4" stroke-linejoin="round"/>
<path d="M228.2,578.4 L221.7,594.4 M248.9,589.8 L242.0,606.2" stroke="#b77ab3" stroke-width="0.5" fill="none"/>
<polygon points="228.2,562.2 232.8,561.3 237.4,563.7 239.7,562.5 244.0,563.1 252.6,567.5 261.8,573.4 270.9,579.3 278.2,585.5 279.1,589.4 280.1,593.1 278.2,598.4 273.6,606.9 270.9,607.6 270.3,600.3 260.4,594.4 249.9,589.8 239.4,582.6 228.2,578.4 219.7,577.6" fill="#a5589f" stroke-linejoin="round" stroke="#a5589f" stroke-width="1"/>
<path d="M237.4,563.7 L229.2,579.3 M261.8,573.4 Q252.6,581.3 249.3,589.8" stroke="#8e4589" stroke-width="0.5" fill="none"/>
<text transform="translate(252.6,579.0) rotate(24)" x="0" y="4.6" text-anchor="middle" font-size="13.2" font-weight="bold" style="fill:#fff">p97</text>
<circle cx="210.5" cy="592.8" r="6.7" fill="#e7707d" stroke="#d05566" stroke-width="0.4"/>
<circle cx="232.8" cy="595.5" r="6.7" fill="#e7707d" stroke="#d05566" stroke-width="0.4"/>
<circle cx="252.2" cy="607.8" r="6.7" fill="#e7707d" stroke="#d05566" stroke-width="0.4"/>
<circle cx="267.3" cy="624.0" r="6.7" fill="#e7707d" stroke="#d05566" stroke-width="0.4"/>
<circle cx="234.8" cy="640.4" r="10.3" fill="#f7a541"/><text x="234.8" y="644.9" text-anchor="middle" font-size="12.8" style="fill:#fff">Ub</text>
<circle cx="232.2" cy="623.3" r="10.5" fill="#f7a541"/><text x="232.2" y="627.8" text-anchor="middle" font-size="12.8" style="fill:#fff">Ub</text>
<path d="M346.2,691.3 C347.3,690.2 351.7,689.7 353.5,688.1 C355.2,686.5 355.1,683.7 356.7,681.7 C358.3,679.7 360.4,677.3 363.1,676.1 C365.8,674.9 370.3,673.8 372.7,674.5 C375.1,675.1 377.2,678.1 377.6,680.1 C378.0,682.1 375.4,684.1 375.1,686.5 C374.9,688.9 374.9,691.9 376.0,694.5 C377.0,697.2 379.6,700.7 381.6,702.6 C383.6,704.4 386.3,705.8 388.0,705.8 C389.7,705.8 391.6,704.2 392.0,702.6 C392.4,701.0 391.3,698.1 390.4,696.1 C389.5,694.1 386.9,692.3 386.4,690.5 C385.9,688.8 385.9,686.5 387.2,685.7 C388.5,684.9 392.1,685.8 394.4,685.7 C396.7,685.6 399.1,684.2 400.8,684.9 C402.6,685.6 404.3,688.1 404.9,689.7 C405.4,691.3 403.5,692.9 404.1,694.5 C404.6,696.1 406.5,698.8 408.1,699.3 C409.7,699.9 411.9,697.7 413.7,697.7 C415.4,697.7 416.4,699.2 418.5,699.3 C420.6,699.5 425.1,697.9 426.5,698.5 C428.0,699.2 428.0,701.5 427.3,703.4 C426.7,705.2 425.1,707.9 422.5,709.8 C420.0,711.7 416.0,713.5 412.1,714.6 C408.2,715.7 404.1,716.1 399.2,716.2 C394.4,716.3 388.5,716.5 383.2,715.4 C377.8,714.3 371.9,712.1 367.1,709.8 C362.3,707.5 357.6,704.3 354.3,701.8 C350.9,699.2 348.4,696.3 347.0,694.5 C345.7,692.8 345.2,692.4 346.2,691.3Z" fill="#99185f"/>
<path d="M348.7,691.3 C349.5,690.5 352.8,690.0 354.3,690.5 C355.7,691.0 356.0,694.0 357.5,694.5 C359.0,695.1 361.8,693.1 363.1,693.7 C364.4,694.4 364.6,696.9 365.5,698.5 C366.4,700.1 368.3,701.8 368.7,703.4 C369.1,705.0 369.1,707.6 367.9,708.2 C366.7,708.7 363.8,707.8 361.5,706.6 C359.2,705.4 356.3,702.8 354.3,701.0 C352.3,699.1 350.4,696.9 349.5,695.3 C348.5,693.7 347.8,692.1 348.7,691.3Z" fill="#740a48"/>
<path d="M367.1,676.9 C367.8,675.8 371.4,675.4 372.7,676.1 C374.1,676.7 375.1,679.3 375.1,680.9 C375.1,682.5 373.8,685.4 372.7,685.7 C371.7,686.0 369.7,684.0 368.7,682.5 C367.8,681.0 366.4,677.9 367.1,676.9Z" fill="#740a48"/>
<path d="M372.7,707.4 C374.3,707.4 381.4,710.3 386.4,711.1 C391.3,711.9 397.4,712.4 402.4,712.2 C407.5,712.0 413.7,710.7 416.9,709.8 C420.1,708.8 421.2,706.4 421.7,706.6 C422.3,706.8 422.5,709.7 420.1,711.1 C417.7,712.4 412.4,714.0 407.3,714.6 C402.2,715.2 394.7,715.2 389.6,714.6 C384.5,714.0 379.6,712.3 376.8,711.1 C373.9,709.9 371.1,707.4 372.7,707.4Z" fill="#740a48" opacity="0.8"/>
<path d="M396.8,685.7 C396.8,684.9 400.4,685.0 401.6,685.7 C402.9,686.4 404.4,688.9 404.4,689.7 C404.4,690.5 402.9,691.2 401.6,690.5 C400.4,689.8 396.8,686.5 396.8,685.7Z" fill="#740a48"/>
<circle cx="420.3" cy="690.5" r="8.2" fill="#f7a541"/><text x="420.3" y="694.1" text-anchor="middle" font-size="10.3" style="fill:#fff">Ub</text>
<path d="M499.7,598.9 C498.9,599.4 495.6,600.2 494.6,601.8 C493.6,603.4 494.0,607.3 493.9,608.4" fill="none" stroke="#5c0a3a" stroke-width="3.1" stroke-linecap="round" stroke-linejoin="round"/>
<path d="M509.2,596.7 C510.7,596.6 515.3,595.5 518.0,595.9 C520.6,596.4 523.4,598.4 525.3,599.6 C527.1,600.8 528.3,602.6 528.9,603.2" fill="none" stroke="#a31a6b" stroke-width="3.1" stroke-linecap="round" stroke-linejoin="round"/>
<path d="M514.3,606.2 C515.2,606.4 517.6,607.5 519.4,607.6 C521.2,607.7 523.6,606.8 525.3,606.9 C527.0,607.0 528.9,608.1 529.6,608.4" fill="none" stroke="#5c0a3a" stroke-width="3.1" stroke-linecap="round" stroke-linejoin="round"/>
<path d="M535.5,612.0 C536.7,611.9 540.7,610.9 542.8,611.3 C544.8,611.6 546.4,613.0 547.9,614.2 C549.3,615.4 550.6,618.5 551.5,618.6 C552.5,618.7 553.4,615.5 553.7,614.9" fill="none" stroke="#a31a6b" stroke-width="3.1" stroke-linecap="round" stroke-linejoin="round"/>
<path d="M518.7,617.8 C520.0,617.6 523.9,616.1 526.7,616.4 C529.5,616.6 534.0,618.8 535.5,619.3" fill="none" stroke="#a31a6b" stroke-width="3.1" stroke-linecap="round" stroke-linejoin="round"/>
<path d="M543.5,625.1 C544.2,624.9 546.4,623.3 547.9,623.7 C549.3,624.1 550.9,626.5 552.3,627.3 C553.6,628.2 554.3,628.6 555.9,628.8 C557.5,629.0 560.8,628.8 561.8,628.8" fill="none" stroke="#5c0a3a" stroke-width="3.1" stroke-linecap="round" stroke-linejoin="round"/>
<path d="M526.0,629.5 C526.8,629.0 529.3,627.0 531.1,626.6 C532.9,626.2 535.7,626.1 536.9,627.3 C538.2,628.6 538.2,632.8 538.4,633.9" fill="none" stroke="#5c0a3a" stroke-width="3.1" stroke-linecap="round" stroke-linejoin="round"/>
<path d="M527.4,644.1 C528.3,644.4 530.7,644.0 532.6,645.6 C534.4,647.2 536.2,653.2 538.4,653.6 C540.6,654.0 544.5,648.7 545.7,647.8" fill="none" stroke="#a31a6b" stroke-width="3.1" stroke-linecap="round" stroke-linejoin="round"/>
<path d="M467.8,617.5 C468.1,616.0 470.1,614.1 473.1,613.3 C476.0,612.6 480.7,612.3 485.3,613.0 C490.0,613.6 496.1,615.3 501.1,617.2 C506.1,619.0 511.9,622.4 515.1,624.2 C518.3,626.0 520.2,626.9 520.2,628.0 C520.2,629.2 518.0,630.7 515.1,631.2 C512.2,631.7 507.8,631.8 502.9,630.8 C497.9,629.9 490.6,626.8 485.3,625.4 C480.1,624.0 474.2,623.7 471.3,622.4 C468.4,621.1 467.5,619.0 467.8,617.5Z" fill="#2350a5" stroke="#1a2f7c" stroke-width="0.6"/>
<circle cx="457.3" cy="637.7" r="7.9" fill="#9e1860" stroke="#5e0c46" stroke-width="0.8"/><circle cx="459.9" cy="646.4" r="8.4" fill="#9e1860" stroke="#5e0c46" stroke-width="0.8"/><circle cx="466.1" cy="655.2" r="8.4" fill="#9e1860" stroke="#5e0c46" stroke-width="0.8"/><circle cx="475.7" cy="662.2" r="8.4" fill="#9e1860" stroke="#5e0c46" stroke-width="0.8"/><circle cx="485.3" cy="664.8" r="7.9" fill="#9e1860" stroke="#5e0c46" stroke-width="0.8"/>
<circle cx="438.9" cy="652.6" r="7.0" fill="#0e669d" stroke="#17387f" stroke-width="0.8"/><circle cx="441.5" cy="661.3" r="7.9" fill="#0e669d" stroke="#17387f" stroke-width="0.8"/><circle cx="447.7" cy="670.1" r="7.9" fill="#0e669d" stroke="#17387f" stroke-width="0.8"/><circle cx="456.4" cy="677.1" r="7.9" fill="#0e669d" stroke="#17387f" stroke-width="0.8"/><circle cx="466.9" cy="679.7" r="7.0" fill="#0e669d" stroke="#17387f" stroke-width="0.8"/>
<circle cx="447.7" cy="646.4" r="7.9" fill="#9e1860" stroke="#5e0c46" stroke-width="0.8"/><circle cx="450.3" cy="655.2" r="8.4" fill="#9e1860" stroke="#5e0c46" stroke-width="0.8"/><circle cx="456.4" cy="663.9" r="8.4" fill="#9e1860" stroke="#5e0c46" stroke-width="0.8"/><circle cx="466.1" cy="670.1" r="8.4" fill="#9e1860" stroke="#5e0c46" stroke-width="0.8"/><circle cx="475.7" cy="673.6" r="7.9" fill="#9e1860" stroke="#5e0c46" stroke-width="0.8"/>
<circle cx="466.1" cy="628.9" r="7.4" fill="#0e669d" stroke="#17387f" stroke-width="0.8"/><circle cx="468.7" cy="638.5" r="7.9" fill="#0e669d" stroke="#17387f" stroke-width="0.8"/><circle cx="473.9" cy="647.3" r="7.9" fill="#0e669d" stroke="#17387f" stroke-width="0.8"/><circle cx="483.6" cy="654.3" r="7.9" fill="#0e669d" stroke="#17387f" stroke-width="0.8"/><circle cx="494.1" cy="656.9" r="7.0" fill="#0e669d" stroke="#17387f" stroke-width="0.8"/>
<circle cx="431.0" cy="659.6" r="7.4" fill="#2350a5" stroke="#1a2f7c" stroke-width="0.8"/><circle cx="431.9" cy="667.4" r="7.4" fill="#2350a5" stroke="#1a2f7c" stroke-width="0.8"/><circle cx="436.3" cy="674.5" r="7.4" fill="#2350a5" stroke="#1a2f7c" stroke-width="0.8"/><circle cx="443.3" cy="679.7" r="7.0" fill="#2350a5" stroke="#1a2f7c" stroke-width="0.8"/>
<circle cx="492.3" cy="639.4" r="7.0" fill="#2350a5" stroke="#1a2f7c" stroke-width="0.8"/><circle cx="502.9" cy="645.9" r="7.7" fill="#2350a5" stroke="#1a2f7c" stroke-width="0.8"/><circle cx="502.0" cy="638.2" r="7.7" fill="#2350a5" stroke="#1a2f7c" stroke-width="0.8"/><circle cx="497.6" cy="632.4" r="7.0" fill="#2350a5" stroke="#1a2f7c" stroke-width="0.8"/><circle cx="488.8" cy="631.5" r="7.0" fill="#2350a5" stroke="#1a2f7c" stroke-width="0.8"/><circle cx="493.2" cy="648.2" r="8.4" fill="#2350a5" stroke="#1a2f7c" stroke-width="0.8"/><circle cx="483.6" cy="641.2" r="8.4" fill="#2350a5" stroke="#1a2f7c" stroke-width="0.8"/><circle cx="476.6" cy="631.5" r="8.4" fill="#2350a5" stroke="#1a2f7c" stroke-width="0.8"/>
<path d="M412.5,677.8 C412.7,676.6 415.7,675.4 418.8,675.3 C421.9,675.2 426.6,676.1 431.0,677.1 C435.4,678.1 440.4,679.9 445.0,681.5 C449.7,683.1 456.0,685.2 459.1,686.7 C462.1,688.2 463.5,689.2 463.6,690.4 C463.8,691.6 462.7,693.2 459.9,693.9 C457.1,694.6 451.6,695.4 446.8,694.8 C442.0,694.2 436.0,692.3 431.0,690.2 C426.1,688.2 420.1,684.4 417.0,682.3 C413.9,680.3 412.2,679.0 412.5,677.8Z" fill="#2350a5" stroke="#1a2f7c" stroke-width="0.6"/>
<path d="M221.5,503.7 H249.5" stroke="#231f20" stroke-width="1.9" fill="none"/><path d="M255.8,503.7 l-10,-5.3 v10.6z" fill="#231f20"/>
<path d="M426,504 H454" stroke="#231f20" stroke-width="1.9" fill="none"/><path d="M460.3,504 l-10,-5.3 v10.6z" fill="#231f20"/>
<path d="M294.4,691.5 H322" stroke="#231f20" stroke-width="1.9" fill="none"/><path d="M328.3,691.5 l-10,-5.3 v10.6z" fill="#231f20"/></g>
</svg>
</body></html>
